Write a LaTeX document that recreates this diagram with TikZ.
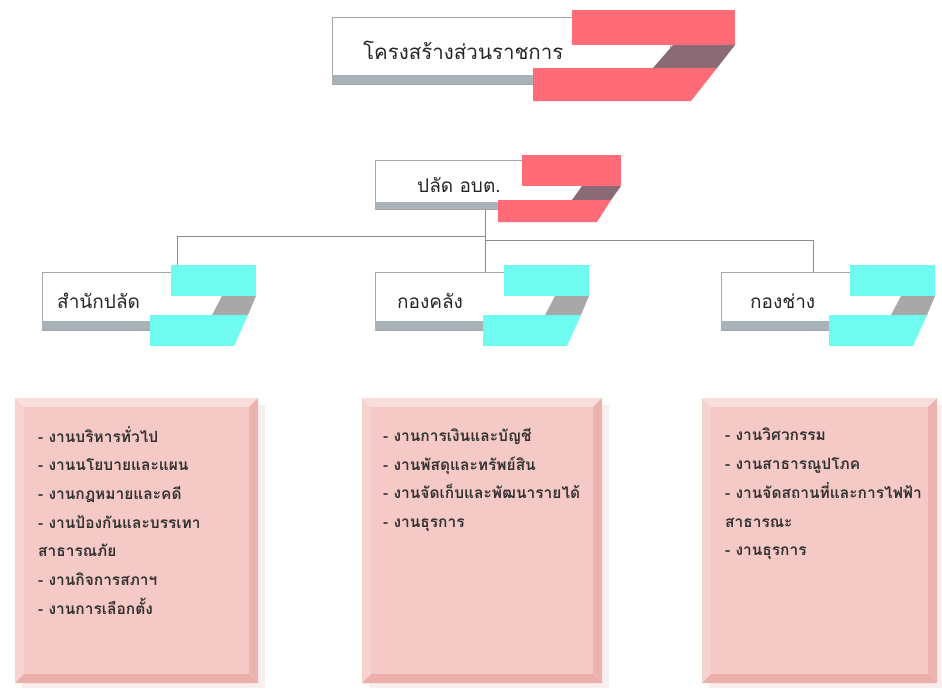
\documentclass[tikz,border=0pt]{standalone}
\usepackage{fontspec}
\setmainfont[Script=Thai]{Loma}
\usetikzlibrary{positioning}

\definecolor{ribbonpink}{HTML}{FF6B77}
\definecolor{ribbondark}{HTML}{8A6B75}
\definecolor{ribboncyan}{HTML}{70FBF1}
\definecolor{ribbongray}{HTML}{A8A8A8}
\definecolor{boxgray}{HTML}{A6A6A6}
\definecolor{bargray}{HTML}{A7B3B9}
\definecolor{linkgray}{HTML}{8C8C8C}
\definecolor{facepink}{HTML}{F5C9C5}
\definecolor{bevtop}{HTML}{F9DFDC}
\definecolor{bevleft}{HTML}{F7D3CF}
\definecolor{bevright}{HTML}{EDB3AE}
\definecolor{bevbottom}{HTML}{EBAEAA}
\definecolor{shadowpink}{HTML}{F9EEEE}
\definecolor{taskgray}{HTML}{333333}

% beveled pink panel: x0, y0, x1, y1
\newcommand{\bevelbox}[4]{%
  \fill[shadowpink] (#1+7,#2+7) rectangle (#3+7,#4+5);
  \fill[bevtop] (#1,#2) -- (#3,#2) -- (#3-9,#2+9) -- (#1+9,#2+9) -- cycle;
  \fill[bevleft] (#1,#2) -- (#1+9,#2+9) -- (#1+9,#4-9) -- (#1,#4) -- cycle;
  \fill[bevright] (#3,#2) -- (#3,#4) -- (#3-9,#4-9) -- (#3-9,#2+9) -- cycle;
  \fill[bevbottom] (#1,#4) -- (#3,#4) -- (#3-9,#4-9) -- (#1+9,#4-9) -- cycle;
  \fill[facepink] (#1+9,#2+9) rectangle (#3-9,#4-9);
}

\begin{document}
\begin{tikzpicture}[x=1pt,y=-1pt,
    headbox/.style={draw=boxgray, fill=white, anchor=north west, align=left, inner ysep=0pt, text=black!85},
    link/.style={draw=linkgray, line width=0.7pt},
    tasks/.style={anchor=north west, align=left, inner sep=0pt, text=taskgray,
      font=\bfseries\fontsize{15.5}{28.7}\selectfont}]
    \useasboundingbox (0,0) rectangle (942,689);

    % connectors
    \coordinate (hubL) at (485,236);
    \coordinate (hubR) at (485,240);
    \coordinate (dropO) at (177,272);
    \coordinate (dropF) at (485,272);
    \coordinate (dropW) at (813,272);

    % title
    \node[headbox, minimum width=338pt, minimum height=67pt, text width=276pt, inner xsep=31pt,
      font=\fontsize{20.5}{24}\selectfont] (title) at (332,17) {โครงสร้างส่วนราชการ};
    \fill[bargray] ([yshift=9pt]title.south west) rectangle (title.south east);
    \fill[ribbonpink] (572,10) rectangle (735,45);
    \fill[ribbondark] (673,45) -- (735,45) -- (717,68) -- (653,68) -- cycle;
    \fill[ribbonpink] (533,68) -- (717,68) -- (691,101) -- (533,101) -- cycle;

    % head of office
    \node[headbox, minimum width=225pt, minimum height=49pt, text width=141pt, inner xsep=42pt,
      font=\fontsize{19}{23}\selectfont] (plad) at (375,160) {ปลัด อบต.};
    \fill[bargray] ([yshift=7pt]plad.south west) rectangle (plad.south east);

    \draw[link] (plad.south -| dropF) -- (dropF);
    \draw[link] (hubL) -| (dropO);
    \draw[link] (hubR) -| (dropW);

    \fill[ribbonpink] (522,155) rectangle (621,186);
    \fill[ribbondark] (582,186) -- (621,186) -- (611,200) -- (572,200) -- cycle;
    \fill[ribbonpink] (498,200) -- (611,200) -- (597,222) -- (498,222) -- cycle;

    % divisions
    \node[headbox, minimum width=185pt, minimum height=58pt, text width=155pt, inner xsep=15pt,
      font=\fontsize{19}{23}\selectfont] (office) at (42,272) {สำนักปลัด};
    \node[headbox, minimum width=185pt, minimum height=58pt, text width=141pt, inner xsep=22pt,
      font=\fontsize{19}{23}\selectfont] (finance) at (375,272) {กองคลัง};
    \node[headbox, minimum width=185pt, minimum height=58pt, text width=127pt, inner xsep=29pt,
      font=\fontsize{19}{23}\selectfont] (works) at (721,272) {กองช่าง};
    \foreach \n in {office,finance,works}
      \fill[bargray] ([yshift=9pt]\n.south west) rectangle (\n.south east);

    \foreach \L in {42,375,721} {
      \fill[ribboncyan] (\L+129,265) rectangle (\L+214,296);
      \fill[ribbongray] (\L+180,296) -- (\L+214,296) -- (\L+206,315) -- (\L+170,315) -- cycle;
      \fill[ribboncyan] (\L+108,315) -- (\L+206,315) -- (\L+192,346) -- (\L+108,346) -- cycle;
    }

    % task panels
    \bevelbox{15}{398}{258}{683}
    \bevelbox{362}{398}{602}{683}
    \bevelbox{702}{398}{937}{683}

    \node[tasks] (officeTasks) at (38,426) {- งานบริหารทั่วไป\\- งานนโยบายและแผน\\- งานกฎหมายและคดี\\- งานป้องกันและบรรเทา\\สาธารณภัย\\- งานกิจการสภาฯ\\- งานการเลือกตั้ง};
    \node[tasks] (financeTasks) at (383,428) {- งานการเงินและบัญชี\\- งานพัสดุและทรัพย์สิน\\- งานจัดเก็บและพัฒนารายได้\\- งานธุรการ};
    \node[tasks] (worksTasks) at (725,428) {- งานวิศวกรรม\\- งานสาธารณูปโภค\\- งานจัดสถานที่และการไฟฟ้า\\สาธารณะ\\- งานธุรการ};
\end{tikzpicture}
\end{document}
